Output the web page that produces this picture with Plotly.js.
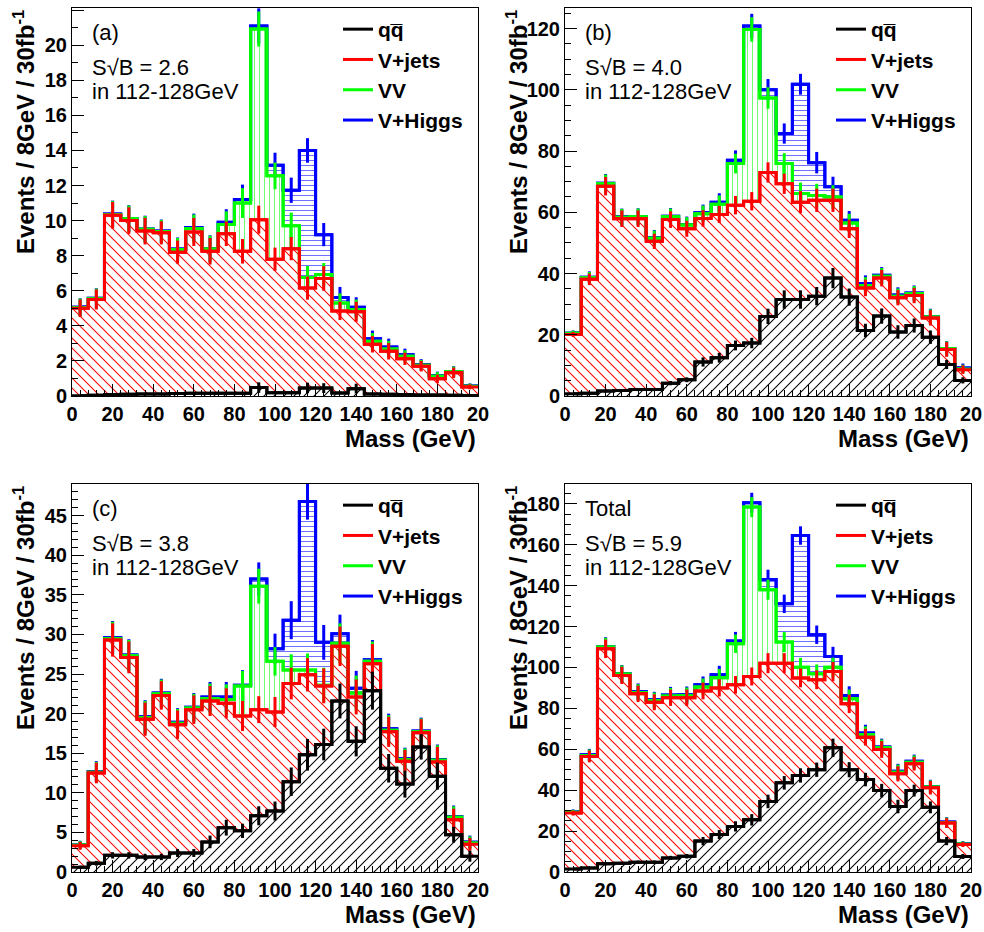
<!DOCTYPE html>
<html><head><meta charset="utf-8">
<script src="https://cdn.plot.ly/plotly-3.0.1.min.js"></script>
<style>html,body{margin:0;padding:0;background:#fff}#chart{width:984px;height:932px}</style>
</head><body><div id="chart"></div>
<script>
// ---------------- binning / labels ----------------
const binEdges = [0,8,16,24,32,40,48,56,64,72,80,88,96,104,112,120,128,136,144,152,160,168,176,184,192,200];
const xTickVals = [0,20,40,60,80,100,120,140,160,180,200];
const xTickText = ['0','20','40','60','80','100','120','140','160','180','20'];
const legendNames = ['qq\u0305', 'V+jets', 'VV', 'V+Higgs'];
const panelTags = ['(a)', '(b)', '(c)', 'Total'];
const sOverSqrtB = ['2.6', '4.0', '3.8', '5.9'];
const windowText = 'in 112-128GeV';
const xTitle = 'Mass (GeV)';
const yTitle = 'Events / 8GeV / 30fb<sup>-1</sup>';

// ---------------- panel (a): stacked (cumulative) heights ----------------
const qqA    = [0.02,0.04,0.08,0.1,0.12,0.12,0.14,0.15,0.15,0.16,0.16,0.48,0.18,0.18,0.46,0.45,0.17,0.42,0.12,0.1,0.08,0.06,0.05,0.04,0.03];
const vjetsA = [5.0,5.5,10.3,10.0,9.4,9.3,8.2,9.35,8.25,9.25,8.25,10.05,7.8,8.4,6.15,6.7,4.85,4.8,2.95,2.55,2.12,1.7,0.98,1.32,0.52];
const vvA    = [5.05,5.55,10.35,10.1,9.5,9.38,8.35,9.55,8.38,9.78,11.0,20.92,12.55,9.7,6.75,6.92,5.3,4.93,3.12,2.68,2.26,1.76,1.12,1.38,0.56];
const vhA    = [5.07,5.57,10.38,10.12,9.52,9.4,8.38,9.6,8.4,9.9,11.2,21.1,13.15,11.73,14.0,9.2,5.62,5.06,3.26,2.8,2.35,1.8,1.15,1.4,0.58];
const errQqA    = [0.02,0.03,0.05,0.05,0.05,0.05,0.06,0.06,0.06,0.06,0.06,0.3,0.08,0.08,0.3,0.28,0.08,0.28,0.06,0.05,0.05,0.04,0.03,0.03,0.03];
const errVjetsA = [0.5,0.57,0.76,0.76,0.76,0.66,0.66,0.8,0.76,0.7,0.7,0.8,0.66,0.66,0.66,0.7,0.52,0.57,0.47,0.47,0.35,0.3,0.24,0.3,0.14];
const errVvA    = [0.5,0.57,0.76,0.76,0.76,0.66,0.66,0.8,0.76,0.75,0.85,1.0,0.76,0.76,0.66,0.66,0.55,0.57,0.47,0.47,0.35,0.3,0.24,0.3,0.14];
const errVhA    = [0.5,0.57,0.76,0.76,0.76,0.66,0.66,0.8,0.76,0.75,0.85,1.0,0.72,0.72,0.7,0.66,0.6,0.57,0.47,0.47,0.35,0.3,0.24,0.3,0.14];

// ---------------- panel (b) ----------------
const qqB    = [0.7,0.9,1.6,1.8,2.1,2.1,4.2,5.3,11.1,12.5,16.5,17.3,26.0,31.5,31.5,32.6,38.5,32.3,21.4,26.1,20.9,23.0,19.2,10.3,5.1];
const vjetsB = [20.1,38.1,68.5,57.9,57.9,50.5,57.6,54.6,58.0,59.3,62.3,63.6,73.0,69.3,63.3,63.9,63.9,54.6,35.3,38.5,32.1,32.8,25.5,15.2,8.6];
const vvB    = [20.5,38.6,69.3,58.4,58.5,51.5,58.5,55.8,59.5,62.6,75.9,119.7,97.3,75.9,66.1,65.5,65.0,56.5,36.1,39.1,32.6,33.4,25.8,15.4,8.8];
const vhB    = [20.6,38.8,69.5,58.5,58.6,51.7,58.7,56.0,59.8,63.3,77.0,120.8,100.0,85.7,101.8,76.2,68.3,57.4,36.7,39.4,33.0,33.6,26.0,15.5,9.2];
const errQqB    = [0.3,0.3,0.4,0.4,0.5,0.5,0.7,0.8,1.5,1.6,1.6,1.7,2.5,3.0,3.0,3.0,3.3,2.8,2.2,2.5,2.2,2.3,2.2,1.5,1.0];
const errVjetsB = [0.8,1.9,3.0,2.7,2.7,2.5,2.7,2.6,2.7,2.8,3.0,3.0,3.3,3.3,3.6,3.8,3.8,3.0,2.7,2.7,2.5,2.5,2.5,2.4,1.4];
const errVvB    = [0.8,1.9,3.0,2.7,2.7,2.5,2.7,2.6,2.7,2.9,3.2,4.0,3.5,3.4,3.6,3.8,3.8,3.0,2.7,2.7,2.5,2.5,2.5,2.4,1.4];
const errVhB    = [0.8,1.9,3.0,2.7,2.7,2.5,2.7,2.6,2.7,2.9,3.2,4.0,3.5,3.3,3.4,3.5,3.3,3.0,2.7,2.7,2.5,2.5,2.5,2.4,1.4];

// ---------------- panel (c) ----------------
const qqC    = [0.6,1.1,2.1,2.1,1.9,1.9,2.4,2.4,3.8,5.6,5.2,7.1,7.7,11.4,14.8,16.1,21.6,16.5,22.9,13.1,11.1,15.8,12.1,4.7,2.0];
const vjetsC = [3.3,12.5,29.3,27.1,19.3,22.3,18.6,20.5,21.6,21.3,19.7,20.5,20.2,23.8,24.9,23.5,28.5,22.1,26.3,17.7,14.0,17.6,13.9,6.6,3.5];
const vvC    = [3.4,12.6,29.5,27.3,19.5,22.5,18.8,20.7,21.9,21.8,23.5,36.1,26.6,25.5,25.5,23.6,28.9,22.6,26.6,17.9,14.2,17.7,14.1,6.9,3.7];
const vhC    = [3.45,12.7,29.6,27.4,19.6,22.6,18.9,20.8,22.1,22.1,23.6,37.0,28.2,31.8,46.8,29.0,30.1,23.2,26.8,18.1,14.3,17.8,14.2,7.0,3.8];
const errQqC    = [0.2,0.3,0.4,0.4,0.4,0.4,0.5,0.5,0.8,1.0,0.9,1.2,1.2,1.8,2.0,2.0,2.2,1.9,2.4,1.8,1.7,1.6,1.7,1.0,0.7];
const errVjetsC = [0.5,1.3,2.1,2.0,2.1,1.8,1.8,1.8,1.9,1.9,1.9,1.7,1.9,2.0,2.1,2.2,2.5,2.2,2.5,1.9,1.4,1.7,1.9,1.4,0.8];
const errVvC    = [0.5,1.3,2.1,2.0,2.1,1.8,1.8,1.8,1.9,1.9,1.9,2.2,1.8,2.0,2.1,2.2,2.5,2.2,2.5,1.9,1.4,1.7,1.9,1.4,0.8];
const errVhC    = [0.5,1.3,2.1,2.0,2.1,1.8,1.8,1.8,1.9,1.9,1.9,2.1,1.9,2.4,2.3,2.2,2.4,2.2,2.5,1.9,1.4,1.7,1.9,1.4,0.8];

// ---------------- panel (d) Total ----------------
const qqD    = [1.5,1.9,4.0,4.3,4.8,4.8,6.9,7.7,15.1,18.3,22.3,25.5,34.5,43.6,47.2,50.0,60.7,50.0,45.2,39.8,32.0,39.8,31.6,15.1,7.6];
const vjetsD = [28.8,56.5,109.1,96.1,87.1,83.0,85.2,85.2,88.5,90.0,91.5,95.6,102.1,102.1,94.9,94.0,98.0,82.2,65.9,59.9,48.0,52.9,41.2,23.9,13.4];
const vvD    = [29.2,57.0,110.0,96.8,87.8,83.8,86.0,86.2,90.5,95.0,111.6,178.4,138.0,112.4,100.1,96.9,100.1,84.7,67.1,60.7,48.8,53.7,41.5,24.2,13.7];
const vhD    = [29.4,57.3,110.3,97.0,88.2,84.2,86.5,86.7,91.5,96.5,112.9,180.5,143.0,131.1,164.5,116.0,105.4,86.3,67.9,61.1,49.2,54.1,41.8,24.4,13.9];
const errQqD    = [0.4,0.5,0.7,0.7,0.8,0.8,1.0,1.1,2.0,2.2,2.5,2.8,3.3,3.3,3.5,3.5,4.5,3.7,3.3,3.3,3.3,2.9,2.9,2.0,1.2];
const errVjetsD = [1.2,2.9,4.5,4.2,4.0,3.9,4.0,4.0,4.1,4.2,4.3,4.4,4.9,4.9,4.6,4.6,4.7,4.5,4.1,4.1,3.7,3.3,3.3,2.4,1.2];
const errVvD    = [1.2,2.9,4.5,4.2,4.0,3.9,4.0,4.0,4.1,4.3,4.5,4.9,4.9,4.9,4.6,4.6,4.7,4.5,4.1,4.1,3.7,3.3,3.3,2.4,1.2];
const errVhD    = [1.2,2.9,4.5,4.2,4.0,3.9,4.0,4.0,4.1,4.3,4.5,4.9,4.8,4.5,4.5,4.5,4.7,4.5,4.1,4.1,3.7,3.3,3.3,2.4,1.2];

// ---------------- styles ----------------
const FONT = 'Liberation Sans, Arial, Helvetica, sans-serif';
const DIAG = 10 / Math.SQRT2;   // diagonal hatch: 10 px tile
const layerStyle = {
  vh:    {line:'#0000ff', hatch:'#7070ff', shape:'-',  size:5,    sol:0.2,  rank:4, name:legendNames[3]},
  vv:    {line:'#00ff00', hatch:'#70ff70', shape:'|',  size:5,    sol:0.2,  rank:3, name:legendNames[2]},
  vjets: {line:'#ff0000', hatch:'#ff0000', shape:'\\', size:DIAG, sol:0.15, rank:2, name:legendNames[1]},
  qq:    {line:'#000000', hatch:'#000000', shape:'/',  size:DIAG, sol:0.15, rank:1, name:legendNames[0]}
};
const panels = [
  {vh:vhA, vv:vvA, vjets:vjetsA, qq:qqA, ev:{vh:errVhA, vv:errVvA, vjets:errVjetsA, qq:errQqA}, ymax:22.12, dtick:2,  minor:1},
  {vh:vhB, vv:vvB, vjets:vjetsB, qq:qqB, ev:{vh:errVhB, vv:errVvB, vjets:errVjetsB, qq:errQqB}, ymax:126.7, dtick:20, minor:5},
  {vh:vhC, vv:vvC, vjets:vjetsC, qq:qqC, ev:{vh:errVhC, vv:errVvC, vjets:errVjetsC, qq:errQqC}, ymax:49.0,  dtick:5,  minor:1},
  {vh:vhD, vv:vvD, vjets:vjetsD, qq:qqD, ev:{vh:errVhD, vv:errVvD, vjets:errVjetsD, qq:errQqD}, ymax:189.7, dtick:20, minor:5}
];
// geometry (paper fractions, chosen to land on whole pixels)
const W = 984, H = 932;
const xDom = [[72/W, 478/W], [565/W, 971/W], [72/W, 478/W], [565/W, 971/W]];
const yDom = [[1 - 396/H, 1 - 8/H], [1 - 396/H, 1 - 8/H], [1 - 872/H, 1 - 484/H], [1 - 872/H, 1 - 484/H]];
const legendX = [338/W, 831/W, 338/W, 831/W];
const legendY = [1 - 9/H, 1 - 9/H, 1 - 485/H, 1 - 485/H];
const yTitleX = [24/W, 517/W, 24/W, 517/W];

const centers = binEdges.slice(0, -1).map((e, i) => (e + binEdges[i + 1]) / 2);
const binWidth = binEdges[1] - binEdges[0];
const stepY = v => v.concat([v[v.length - 1]]);

const fillTraces = [], lineTraces = [];
const layout = {
  width: W, height: H, autosize: false,
  margin: {l:0, r:0, t:0, b:0},
  paper_bgcolor: '#ffffff', plot_bgcolor: '#ffffff',
  showlegend: true, hovermode: false,
  barmode: 'overlay', bargap: 0,
  annotations: []
};

panels.forEach((P, p) => {
  const sfx = p === 0 ? '' : String(p + 1);
  const xa = 'x' + sfx, ya = 'y' + sfx;
  const lg = 'legend' + sfx;
  ['vh', 'vv', 'vjets', 'qq'].forEach(key => {
    const s = layerStyle[key];
    // hatched histogram body (white underneath so lower layers hide upper hatching)
    fillTraces.push({
      uid: 'hist' + p + key,
      type: 'bar', x: centers, y: P[key], width: binWidth, xaxis: xa, yaxis: ya,
      marker: {color: '#ffffff', line: {width: 0},
               pattern: {shape: s.shape, fgcolor: s.hatch, bgcolor: '#ffffff', size: s.size, solidity: s.sol, fillmode: 'replace'}},
      showlegend: false, hoverinfo: 'skip'
    });
    // step outline
    lineTraces.push({
      uid: 'step' + p + key,
      type: 'scatter', x: binEdges, y: stepY(P[key]), xaxis: xa, yaxis: ya,
      mode: 'lines', line: {shape: 'hv', color: s.line, width: 3},
      showlegend: false, hoverinfo: 'skip'
    });
    // per-bin error bars (also carries the legend entry)
    lineTraces.push({
      uid: 'err' + p + key,
      type: 'scatter', x: centers, y: P[key], xaxis: xa, yaxis: ya,
      mode: 'lines', line: {shape: 'hvh', color: s.line, width: 3},
      error_y: {type: 'data', array: P.ev[key], visible: true, color: s.line, thickness: 3, width: 0},
      name: s.name, legend: lg, legendrank: s.rank, showlegend: true, hoverinfo: 'skip'
    });
  });

  layout['xaxis' + sfx] = {
    domain: xDom[p], anchor: ya, range: [0, 200],
    tickmode: 'array', tickvals: xTickVals, ticktext: xTickText,
    ticks: 'inside', ticklen: 12, tickwidth: 1, tickcolor: '#000',
    minor: {dtick: 4, tick0: 0, ticks: 'inside', ticklen: 6, tickwidth: 1, tickcolor: '#000'},
    showline: true, mirror: true, linecolor: '#000', linewidth: 1,
    showgrid: false, zeroline: false,
    tickfont: {family: FONT, size: 20, weight: 700, color: '#000'}
  };
  layout['yaxis' + sfx] = {
    domain: yDom[p], anchor: xa, range: [0, P.ymax],
    tick0: 0, dtick: P.dtick,
    ticks: 'inside', ticklen: 12, tickwidth: 1, tickcolor: '#000',
    minor: {dtick: P.minor, ticks: 'inside', ticklen: 6, tickwidth: 1, tickcolor: '#000'},
    showline: true, mirror: true, linecolor: '#000', linewidth: 1,
    showgrid: false, zeroline: false,
    tickfont: {family: FONT, size: 20, weight: 700, color: '#000'}
  };
  layout[lg] = {
    x: legendX[p], y: legendY[p], xanchor: 'left', yanchor: 'top',
    xref: 'paper', yref: 'paper',
    bgcolor: 'rgba(0,0,0,0)', borderwidth: 0, itemwidth: 30,
    traceorder: 'normal', tracegroupgap: 0,
    font: {family: FONT, size: 21, weight: 700, color: '#000'}
  };
  const xd = xa + ' domain', yd = ya + ' domain';
  const regFont = {family: FONT, size: 22, color: '#000'};
  layout.annotations.push(
    {xref: xd, yref: yd, x: 0.045, y: 0.936, xanchor: 'left', yanchor: 'middle', showarrow: false, text: panelTags[p], font: regFont},
    {xref: xd, yref: yd, x: 0.045, y: 0.846, xanchor: 'left', yanchor: 'middle', showarrow: false, text: 'S\u221AB = ' + sOverSqrtB[p], font: regFont},
    {xref: xd, yref: yd, x: 0.045, y: 0.784, xanchor: 'left', yanchor: 'middle', showarrow: false, text: windowText, font: regFont},
    {xref: xd, yref: yd, x: 1.0, y: -0.11, xanchor: 'right', yanchor: 'middle', showarrow: false, text: xTitle,
     font: {family: FONT, size: 24, weight: 700, color: '#000'}},
    {xref: 'paper', yref: yd, x: yTitleX[p], y: 1.0, xanchor: 'center', yanchor: 'top', textangle: -90, showarrow: false, text: yTitle,
     font: {family: FONT, size: 24, weight: 700, color: '#000'}}
  );
});

Plotly.newPlot('chart', fillTraces.concat(lineTraces), layout, {staticPlot: true, displayModeBar: false});
</script></body></html>
